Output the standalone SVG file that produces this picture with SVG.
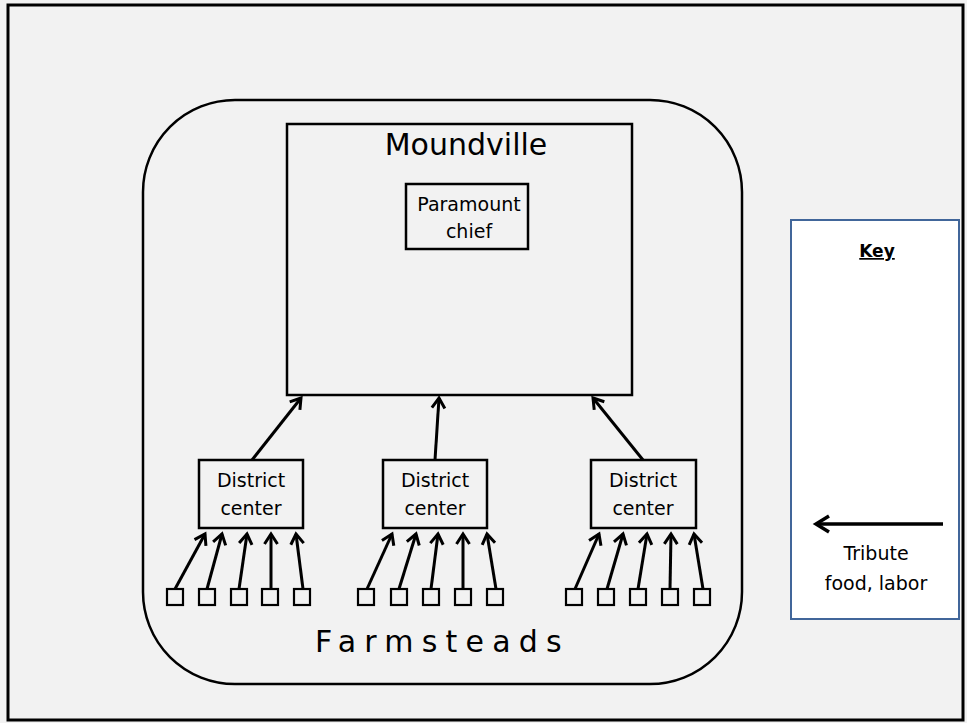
<svg xmlns="http://www.w3.org/2000/svg" width="967" height="723" viewBox="0 0 967 723">
  <style>
    .box { fill: none; stroke: #000; stroke-width: 2.5; }
    .sq { fill: none; stroke: #000; stroke-width: 2.2; }
    .t { font-family: "DejaVu Sans", "Liberation Sans", sans-serif; fill: #000; }
    .arrow { stroke: #000; stroke-width: 3; fill: none; marker-end: url(#head); }
  </style>
  <defs>
    <marker id="head" markerUnits="userSpaceOnUse" markerWidth="24" markerHeight="24" viewBox="-14 -12 24 24" refX="0" refY="0" orient="auto" overflow="visible">
      <path d="M-10,-6.5 L0,0 L-10,6.5" fill="none" stroke="#000" stroke-width="3" stroke-linejoin="miter"/>
    </marker>
  </defs>

  <rect x="0" y="0" width="967" height="723" fill="#f2f2f2"/>
  <rect x="8" y="5" width="955" height="715" fill="#f2f2f2" stroke="#000" stroke-width="3"/>

  <!-- Settlement system boundary -->
  <g id="region">
    <rect x="143" y="100" width="599" height="584" rx="92" ry="92" fill="none" stroke="#000" stroke-width="2.5"/>
    <text class="t" x="315" y="652" font-size="30" letter-spacing="8.2">Farmsteads</text>
  </g>

  <g id="moundville">
    <rect class="box" x="287" y="124" width="345" height="271"/>
    <text class="t" x="466" y="155" font-size="30" text-anchor="middle">Moundville</text>
  </g>

  <g id="paramount-chief">
    <rect class="box" x="406" y="184" width="122" height="65"/>
    <text class="t" x="469" y="211" font-size="19" text-anchor="middle">Paramount</text>
    <text class="t" x="469" y="238" font-size="19" text-anchor="middle">chief</text>
  </g>

  <g id="district-1">
    <rect class="box" x="199" y="460" width="104" height="68"/>
    <text class="t" x="251" y="487" font-size="19" text-anchor="middle">District</text>
    <text class="t" x="251" y="515" font-size="19" text-anchor="middle">center</text>
  </g>
  <g id="district-2">
    <rect class="box" x="383" y="460" width="104" height="68"/>
    <text class="t" x="435" y="487" font-size="19" text-anchor="middle">District</text>
    <text class="t" x="435" y="515" font-size="19" text-anchor="middle">center</text>
  </g>
  <g id="district-3">
    <rect class="box" x="591" y="460" width="105" height="68"/>
    <text class="t" x="643" y="487" font-size="19" text-anchor="middle">District</text>
    <text class="t" x="643" y="515" font-size="19" text-anchor="middle">center</text>
  </g>

  <g id="farmsteads-1">
    <rect class="sq" x="167" y="589" width="16" height="16"/>
    <rect class="sq" x="199" y="589" width="16" height="16"/>
    <rect class="sq" x="231" y="589" width="16" height="16"/>
    <rect class="sq" x="262" y="589" width="16" height="16"/>
    <rect class="sq" x="294" y="589" width="16" height="16"/>
  </g>
  <g id="farmsteads-2">
    <rect class="sq" x="358" y="589" width="16" height="16"/>
    <rect class="sq" x="391" y="589" width="16" height="16"/>
    <rect class="sq" x="423" y="589" width="16" height="16"/>
    <rect class="sq" x="455" y="589" width="16" height="16"/>
    <rect class="sq" x="487" y="589" width="16" height="16"/>
  </g>
  <g id="farmsteads-3">
    <rect class="sq" x="566" y="589" width="16" height="16"/>
    <rect class="sq" x="598" y="589" width="16" height="16"/>
    <rect class="sq" x="630" y="589" width="16" height="16"/>
    <rect class="sq" x="662" y="589" width="16" height="16"/>
    <rect class="sq" x="694" y="589" width="16" height="16"/>
  </g>

  <g id="key">
    <rect x="791" y="220" width="168" height="399" fill="#ffffff" stroke="#41669a" stroke-width="2"/>
    <text class="t" x="877" y="257" font-size="17" font-weight="bold" text-anchor="middle" text-decoration="underline">Key</text>
    <line x1="943" y1="524" x2="817" y2="524" stroke="#000" stroke-width="3.5"/>
    <path d="M829,516 L816,524 L829,532" fill="none" stroke="#000" stroke-width="3.5"/>
    <text class="t" x="876" y="560" font-size="19" text-anchor="middle">Tribute</text>
    <text class="t" x="876" y="590" font-size="19" text-anchor="middle">food, labor</text>
  </g>

  <!-- Tribute flows -->
  <g id="connectors">
    <line class="arrow" x1="252" y1="460" x2="301" y2="398"/>
    <line class="arrow" x1="435" y1="460" x2="439" y2="398"/>
    <line class="arrow" x1="643" y1="460" x2="593" y2="398"/>

    <line class="arrow" x1="175" y1="589" x2="205" y2="534"/>
    <line class="arrow" x1="207" y1="589" x2="222" y2="534"/>
    <line class="arrow" x1="239" y1="589" x2="247" y2="534"/>
    <line class="arrow" x1="271" y1="589" x2="271" y2="534"/>
    <line class="arrow" x1="303" y1="589" x2="296" y2="534"/>

    <line class="arrow" x1="367" y1="589" x2="392" y2="534"/>
    <line class="arrow" x1="399" y1="589" x2="416" y2="534"/>
    <line class="arrow" x1="431" y1="589" x2="438" y2="534"/>
    <line class="arrow" x1="463" y1="589" x2="463" y2="534"/>
    <line class="arrow" x1="496" y1="589" x2="487" y2="534"/>

    <line class="arrow" x1="575" y1="589" x2="599" y2="534"/>
    <line class="arrow" x1="607" y1="589" x2="623" y2="534"/>
    <line class="arrow" x1="638" y1="589" x2="647" y2="534"/>
    <line class="arrow" x1="670" y1="589" x2="671" y2="534"/>
    <line class="arrow" x1="703" y1="589" x2="694" y2="534"/>
  </g>
</svg>
